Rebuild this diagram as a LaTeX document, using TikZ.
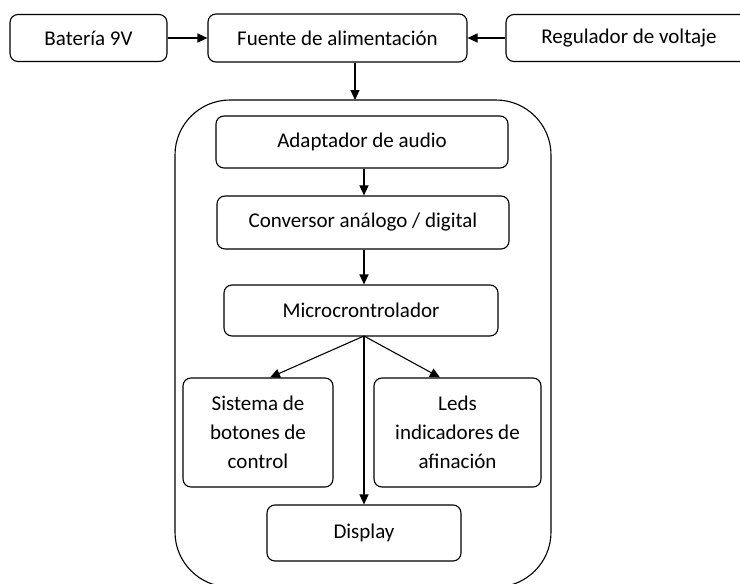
\documentclass[tikz,border=0pt]{standalone}
\usepackage{fontspec}
\setmainfont{Carlito}
\usetikzlibrary{arrows.meta}
\begin{document}
\begin{tikzpicture}[x=1pt,y=-1pt,
  box/.style={draw, line width=1.1pt, rounded corners=8pt, inner sep=0pt, align=center,
    font=\fontsize{21}{29}\selectfont},
  conn/.style={line width=1.1pt, -{Triangle[length=10pt,width=9pt]}}]
\useasboundingbox (0,0) rectangle (740,584);
\clip (0,0) rectangle (740,584);
\draw[line width=1.1pt, rounded corners=55pt] (175,100) rectangle (551,587);
\node[box, minimum width=157pt, minimum height=47pt] (bat) at (88.5,38) {Batería 9V};
\node[box, minimum width=259pt, minimum height=48pt] (fue) at (337.5,38) {Fuente de alimentación};
\node[box, minimum width=246pt, minimum height=47pt] (reg) at (629,38) {Regulador de voltaje};
\node[box, minimum width=292pt, minimum height=52pt] (ada) at (362,142) {Adaptador de audio};
\node[box, minimum width=292pt, minimum height=53pt] (con) at (363,222.5) {Conversor análogo / digital};
\node[box, minimum width=274pt, minimum height=51pt] (mic) at (361,310.5) {Microcrontrolador};
\node[box, minimum width=150pt, minimum height=109pt] (sis) at (258,432.5) {Sistema de\\botones de\\control};
\node[box, minimum width=167pt, minimum height=109pt] (led) at (457.5,432.5) {Leds\\indicadores de\\afinación};
\node[box, minimum width=194pt, minimum height=56pt] (dis) at (364,533) {Display};
\coordinate (ctop) at (355,100);
\coordinate (mb) at (364,336);
\draw[conn] (bat) -- (fue);
\draw[conn] (reg) -- (fue);
\draw[conn] (fue.south -| ctop) -- (ctop);
\draw[conn] (ada.south -| mb) -- (con.north -| mb);
\draw[conn] (con.south -| mb) -- (mic.north -| mb);
\draw[conn] (mb) -- (sis.north -| 270,0);
\draw[conn] (mb) -- (led.north -| 440,0);
\draw[conn] (mb) -- (dis.north -| mb);
\end{tikzpicture}
\end{document}
